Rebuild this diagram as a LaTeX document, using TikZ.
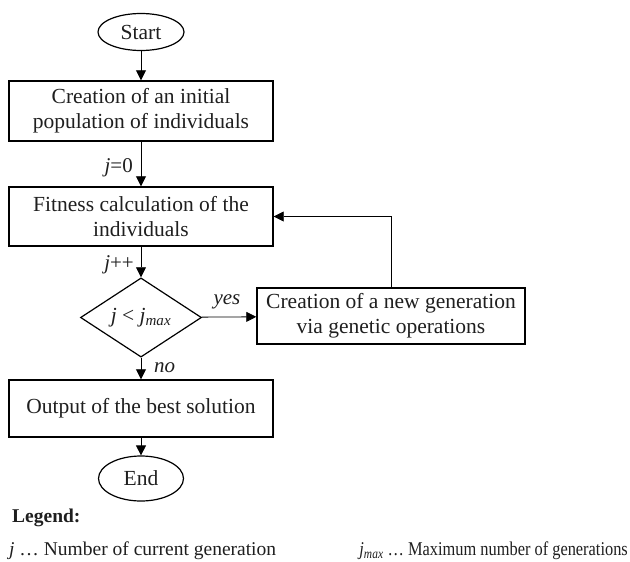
\documentclass[tikz,border=0pt]{standalone}
\usepackage{fontspec}
\usepackage{graphicx}
\setmainfont{Liberation Serif}
\usetikzlibrary{shapes.geometric,arrows.meta}
\begin{document}
\begin{tikzpicture}[x=1pt,y=-1pt,
  every node/.style={font=\fontsize{21.5}{25}\selectfont, text=black!88},
  procbox/.style={draw, line width=1.4pt, align=center, inner sep=0pt},
  terminal/.style={draw, ellipse, line width=1.2pt, inner sep=0pt},
  decision/.style={draw, diamond, line width=1.2pt, inner sep=0pt},
  arr/.style={line width=0.8pt, -{Triangle[length=10pt,width=10pt]}},
  lbl/.style={font=\fontsize{21}{24}\selectfont\itshape, inner sep=0pt},
  legtext/.style={font=\fontsize{19.5}{23}\selectfont, inner sep=0pt}]
  \useasboundingbox (0,0) rectangle (630,562);

  % flow nodes
  \node[terminal, minimum width=86pt, minimum height=37pt] (start) at (141,32) {Start};
  \node[procbox, minimum width=264pt, minimum height=60pt] (init) at (141,111)
    {Creation of an initial\\population of individuals};
  \node[procbox, minimum width=264pt, minimum height=59pt] (fit) at (141,216.5)
    {Fitness calculation of the\\individuals};
  \node[decision, minimum width=121pt, minimum height=71pt] (cond) at (141,317.5)
    {\textit{j} < \textit{j}\textsubscript{\textit{max}}};
  \node[procbox, minimum width=268pt, minimum height=56pt] (newgen) at (391,316)
    {Creation of a new generation\\via genetic operations};
  \node[procbox, minimum width=264pt, minimum height=57pt] (out) at (141,408.5)
    {Output of the best solution};
  \node[terminal, minimum width=85pt, minimum height=45pt] (stop) at (141,478.5) {End};

  % connectors
  \draw[arr] (start) -- (init);
  \draw[arr] (init) -- (fit);
  \draw[arr] (fit) -- (cond);
  \draw[arr] (cond) -- (newgen);
  \draw[arr] (newgen.north) |- (fit.east);
  \draw[arr] (cond) -- (out);
  \draw[arr] (out) -- (stop);

  % edge labels
  \node[lbl, anchor=base east] (l0) at (133,172) {j\upshape=0};
  \node[lbl, anchor=base east] (l1) at (134,269) {j\upshape++};
  \node[lbl, anchor=base] (l2) at (227,304) {yes};
  \node[lbl, anchor=base west] (l3) at (154,372) {no};

  % legend
  \node[legtext, anchor=base west, font=\fontsize{19.5}{23}\selectfont\bfseries] (leg) at (12,522) {Legend:};
  \node[legtext, anchor=base west] (legj) at (9,555)
    {\textit{j} … Number of current generation};
  \node[legtext, anchor=base east] (legmax) at (628,555)
    {\scalebox{0.84}[1]{\textit{j}\textsubscript{\textit{max}} … Maximum number of generations}};
\end{tikzpicture}
\end{document}
